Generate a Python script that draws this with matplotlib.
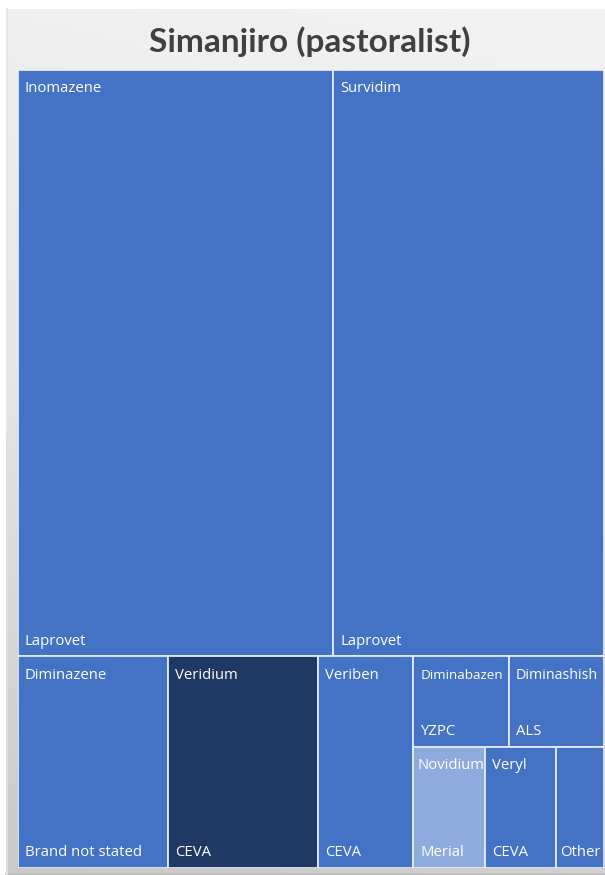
import matplotlib
matplotlib.use("Agg")
import matplotlib.pyplot as plt
from matplotlib.patches import Rectangle
from matplotlib.colors import LinearSegmentedColormap
import numpy as np

# ---- data ----
title = "Simanjiro (pastoralist)"
products = ["Inomazene", "Survidim", "Diminazene", "Veridium", "Veriben",
            "Diminabazen", "Diminashish", "Novidium", "Veryl", "Other"]
brands = ["Laprovet", "Laprovet", "Brand not stated", "CEVA", "CEVA",
          "YZPC", "ALS", "Merial", "CEVA", ""]
values = [64, 55, 11, 11, 7, 3, 3, 3, 3, 2]

# ---- style ----
BLUE = "#4472C4"
NAVY = "#203864"
LIGHT = "#8FAADC"
fill_colors = [BLUE, BLUE, BLUE, NAVY, BLUE, BLUE, BLUE, LIGHT, BLUE, BLUE]

# nested split structure: 'v' = stacked top-to-bottom, 'h' = side by side
structure = ("v", [("h", [0, 1]),
                   ("h", [2, 3, 4, ("v", [("h", [5, 6]), ("h", [7, 8, 9])])])])


def total(node):
    if isinstance(node, int):
        return values[node]
    return sum(total(c) for c in node[1])


def layout(node, x, y, w, h, out):
    if isinstance(node, int):
        out[node] = (x, y, w, h)
        return
    d, kids = node
    s = total(node)
    pos = 0.0
    for k in kids:
        f = total(k) / s
        if d == "h":
            layout(k, x + pos * w, y, f * w, h, out)
        else:
            layout(k, x, y + pos * h, w, f * h, out)
        pos += f


rects = {}
layout(structure, 0.0, 0.0, 1.0, 1.0, rects)

W, H = 605, 875
fig = plt.figure(figsize=(W / 100, H / 100), dpi=100)
fig.patch.set_facecolor("white")

# background panel with gradient
bg = fig.add_axes([6 / W, 0, (W - 6) / W, (H - 9) / H])
bg.set_axis_off()
yy, xx = np.mgrid[0:1:200j, 0:1:200j]
grad = 0.85 * yy + 0.15 * (1 - xx)
cmap = LinearSegmentedColormap.from_list("g", ["#f3f3f3", "#e6e6e6", "#c9c9c9"])
bg.imshow(grad, cmap=cmap, aspect="auto", extent=[0, 1, 1, 0], vmin=0, vmax=1)
bg.set_xlim(0, 1)
bg.set_ylim(1, 0)
bg.plot([0, 1], [0.001, 0.001], color="#bdbdbd", lw=1.2, transform=bg.transAxes, clip_on=False)
bg.plot([0.001, 0.001], [0, 1], color="#e2e2e2", lw=1.2, transform=bg.transAxes, clip_on=False)

fig.text(310 / W, 1 - 42 / H, title, ha="center", va="center",
         fontsize=24, fontweight="bold", color="#404040", family="Lato")

# treemap axes
L, R, T, B = 18, 604, 70, 868
ax = fig.add_axes([L / W, 1 - B / H, (R - L) / W, (B - T) / H])
ax.set_xlim(0, 1)
ax.set_ylim(1, 0)
ax.set_axis_off()

fig.canvas.draw()
renderer = fig.canvas.get_renderer()
FONT = "Open Sans"
PX = 0.72  # points per pixel

for i, (x, y, w, h) in rects.items():
    ax.add_patch(Rectangle((x, y), w, h, facecolor=fill_colors[i],
                           edgecolor="#e4eaf5", linewidth=1.3))
    wpx = w * (R - L)
    top_txt, bot_txt = products[i], brands[i]
    if not bot_txt:
        top_txt, bot_txt = "", products[i]
    for txt, yref, dy in ((top_txt, y, -19), (bot_txt, y + h, 15)):
        if not txt:
            continue
        t = ax.annotate(txt, xy=(x, yref), xytext=(7 * PX, dy * PX),
                        textcoords="offset points", ha="left", va="center",
                        color="white", fontsize=10.7, family=FONT)
        fs = 10.7
        if wpx > 80:
            while t.get_window_extent(renderer).width > wpx - 12 and fs > 6:
                fs -= 0.2
                t.set_fontsize(fs)
        if t.get_window_extent(renderer).width > wpx - 12:
            t.set_position((4 * PX, dy * PX))

fig.savefig("out.png", dpi=100, facecolor=fig.get_facecolor())
